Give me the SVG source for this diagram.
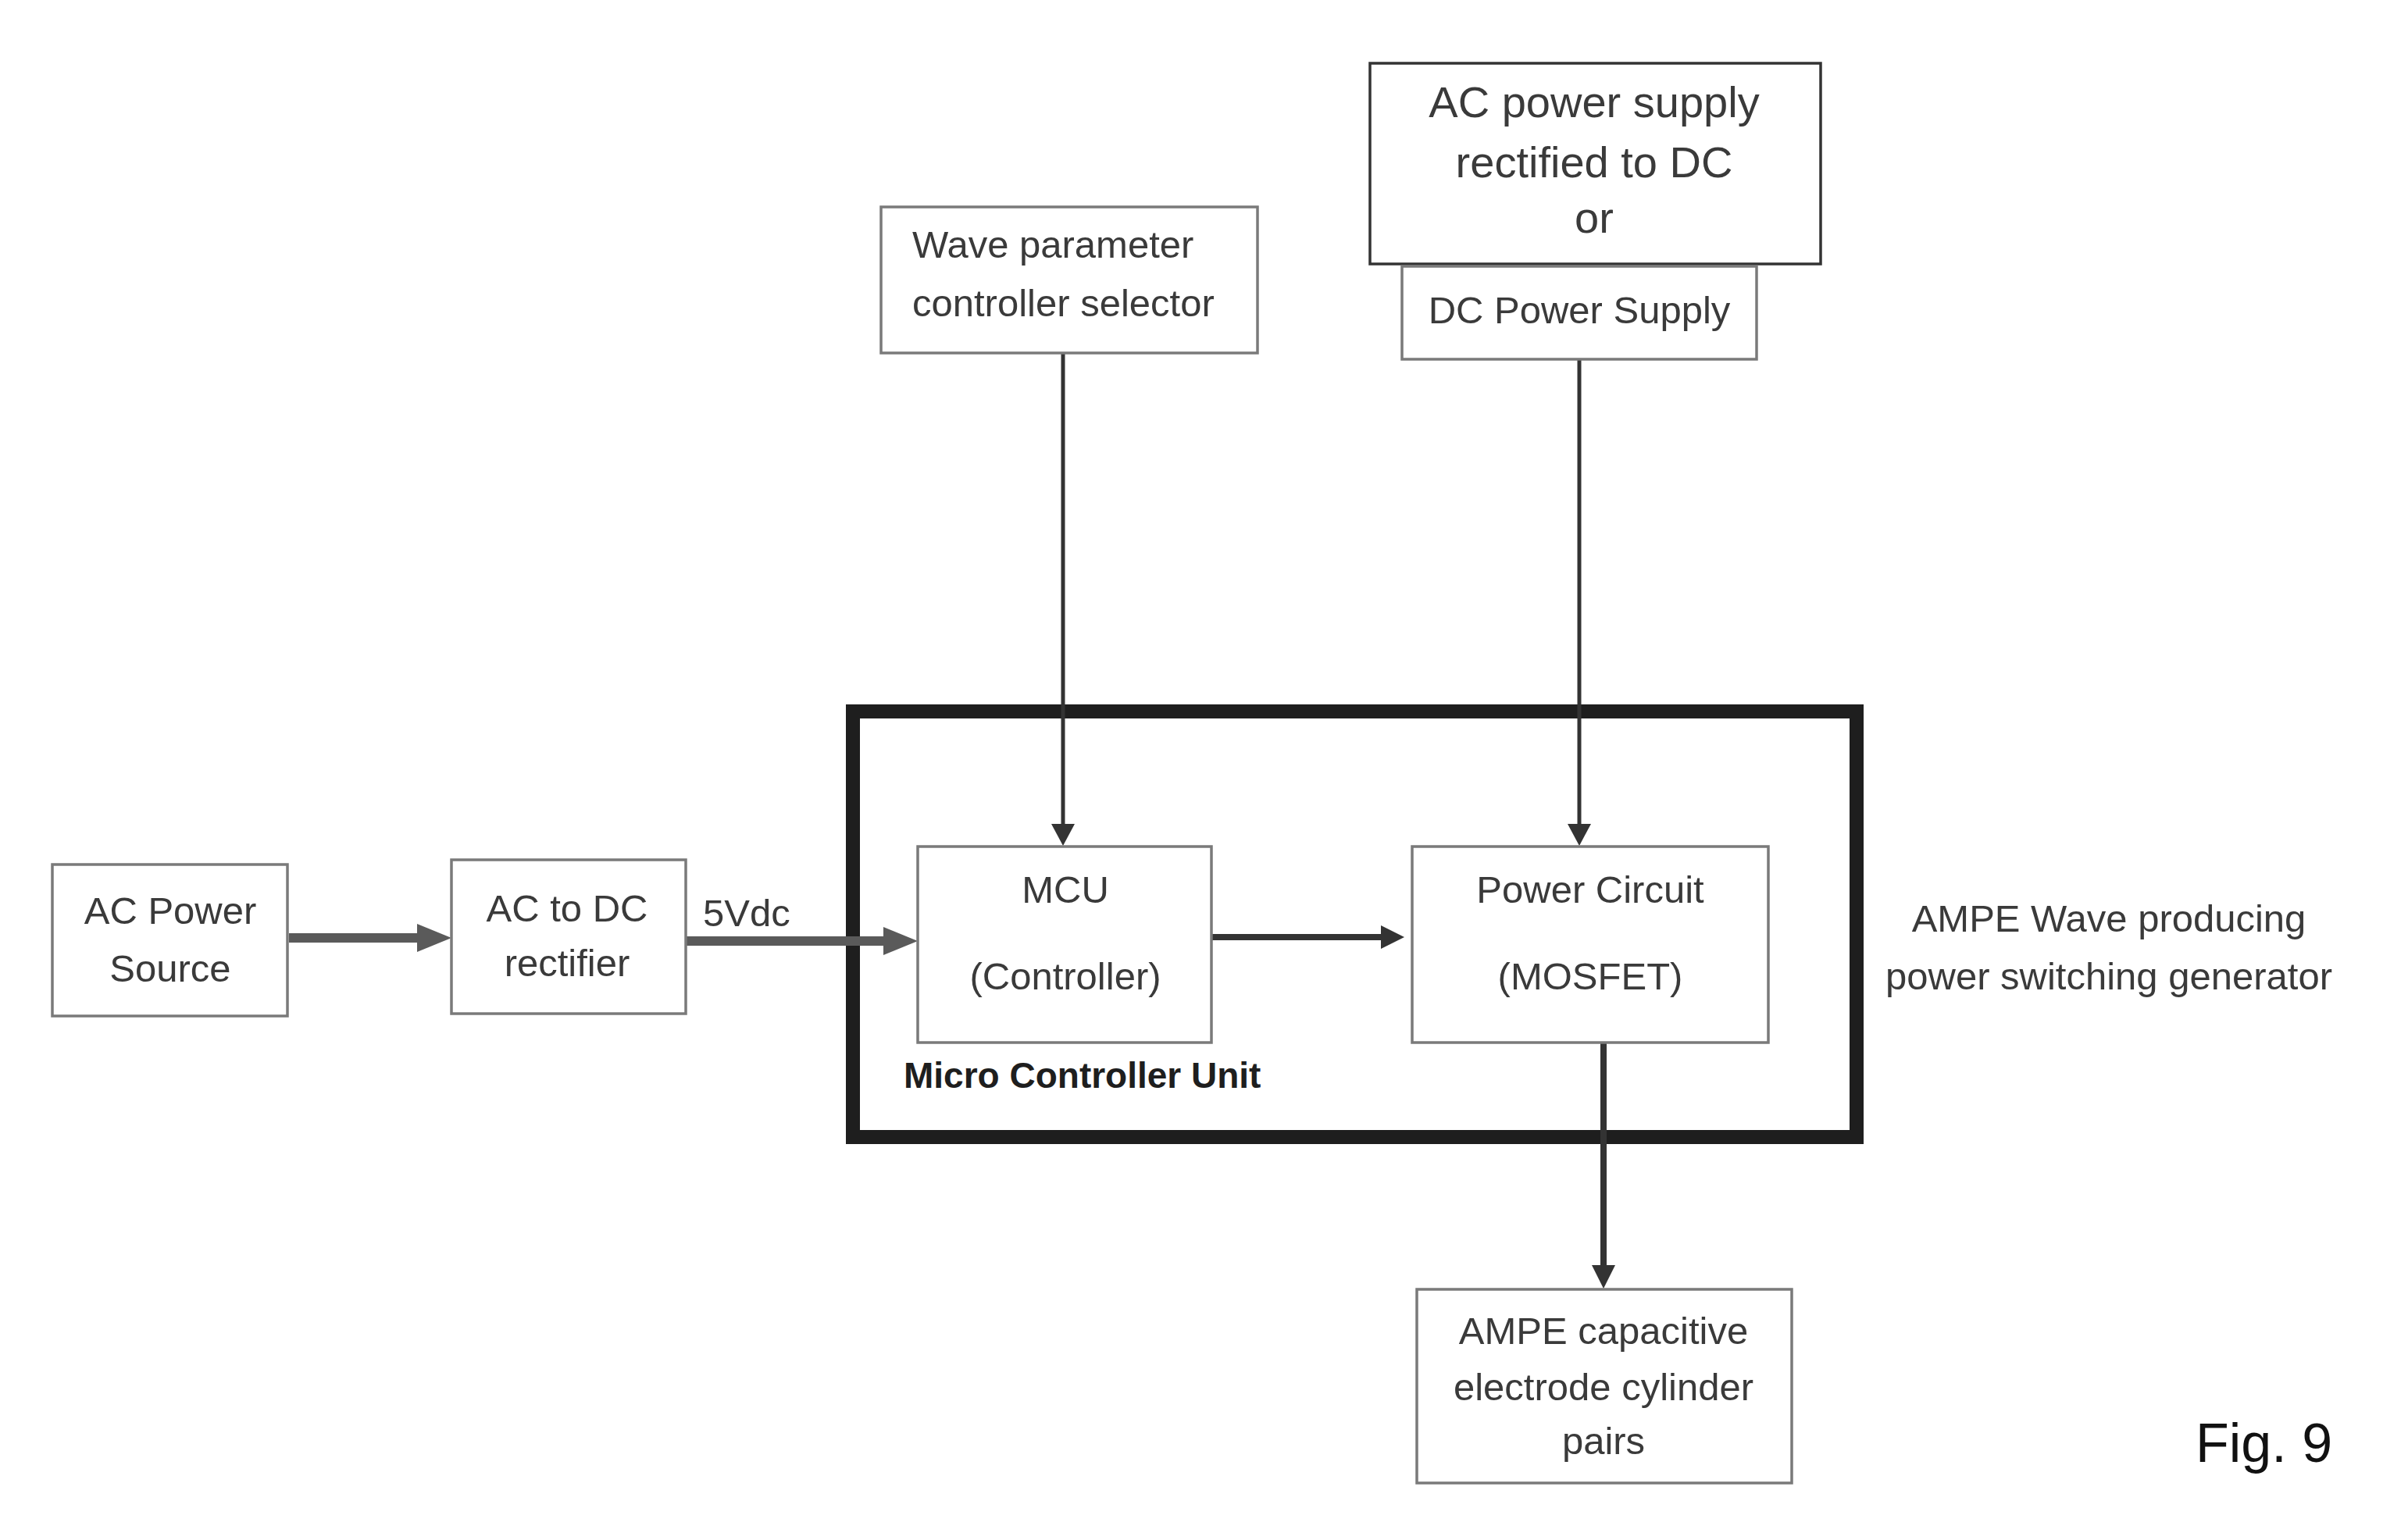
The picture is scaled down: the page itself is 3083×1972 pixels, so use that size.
<svg xmlns="http://www.w3.org/2000/svg" width="3083" height="1972" viewBox="0 0 3083 1972">
<defs>
<style>
.box{fill:#ffffff;stroke:#7a7a7a;stroke-width:3.5}
.boxd{fill:#ffffff;stroke:#333333;stroke-width:3.5}
.frame{fill:none;stroke:#1e1e1e;stroke-width:18}
.t{font-family:"Liberation Sans",Arial,sans-serif;font-size:49px;fill:#3a3a3a}
.tc{text-anchor:middle}
.tb{font-family:"Liberation Sans",Arial,sans-serif;font-size:46px;font-weight:bold;fill:#1e1e1e}
.fig{font-family:"Liberation Sans",Arial,sans-serif;font-size:70px;fill:#111111}
.thick{stroke:#5a5a5a;stroke-width:12;fill:none}
.mid{stroke:#333333;stroke-width:8;fill:none}
.thin{stroke:#333333;stroke-width:5;fill:none}
</style>
<marker id="ahBig" markerUnits="userSpaceOnUse" viewBox="0 0 44 36" refX="0" refY="18" markerWidth="44" markerHeight="36" orient="auto">
<path d="M0,0 L44,18 L0,36 Z" fill="#5a5a5a"/>
</marker>
<marker id="ahMid" markerUnits="userSpaceOnUse" viewBox="0 0 30 30" refX="0" refY="15" markerWidth="30" markerHeight="30" orient="auto">
<path d="M0,0 L30,15 L0,30 Z" fill="#333333"/>
</marker>
<marker id="ahThin" markerUnits="userSpaceOnUse" viewBox="0 0 28 30" refX="0" refY="15" markerWidth="28" markerHeight="30" orient="auto">
<path d="M0,0 L28,15 L0,30 Z" fill="#333333"/>
</marker>
</defs>
<rect width="3083" height="1972" fill="#ffffff"/>

<g id="mcu-unit">
<rect class="frame" x="1092" y="911" width="1285" height="545"/>
<text class="tb" x="1157" y="1393">Micro Controller Unit</text>
</g>

<g id="connectors">
<line class="thick" x1="370" y1="1201" x2="534" y2="1201" marker-end="url(#ahBig)"/>
<line class="thick" x1="879" y1="1205" x2="1131" y2="1205" marker-end="url(#ahBig)"/>
<line class="mid" x1="1551" y1="1200" x2="1768" y2="1200" marker-end="url(#ahMid)"/>
<line class="thin" x1="1361" y1="453" x2="1361" y2="1055" marker-end="url(#ahThin)"/>
<line class="thin" x1="2022" y1="461" x2="2022" y2="1055" marker-end="url(#ahThin)"/>
<line class="mid" x1="2053" y1="1336" x2="2053" y2="1620" marker-end="url(#ahMid)"/>
</g>

<g id="ac-power-source">
<rect class="box" x="67" y="1107" width="301" height="194"/>
<text class="t tc" x="218" y="1183">AC Power</text>
<text class="t tc" x="218" y="1257">Source</text>
</g>

<g id="ac-dc-rectifier">
<rect class="box" x="578" y="1101" width="300" height="197"/>
<text class="t tc" x="726" y="1180">AC to DC</text>
<text class="t tc" x="726" y="1250">rectifier</text>
</g>

<g id="label-5vdc">
<text class="t" x="900" y="1186">5Vdc</text>
</g>

<g id="mcu">
<rect class="box" x="1175" y="1084" width="376" height="251"/>
<text class="t tc" x="1364" y="1156">MCU</text>
<text class="t tc" x="1364" y="1267">(Controller)</text>
</g>

<g id="power-circuit">
<rect class="box" x="1808" y="1084" width="456" height="251"/>
<text class="t tc" x="2036" y="1156">Power Circuit</text>
<text class="t tc" x="2036" y="1267">(MOSFET)</text>
</g>

<g id="wave-selector">
<rect class="box" x="1128" y="265" width="482" height="187"/>
<text class="t" x="1168" y="330">Wave parameter</text>
<text class="t" x="1168" y="405">controller selector</text>
</g>

<g id="ac-supply-rectified">
<rect class="boxd" x="1754" y="81" width="577" height="257"/>
<text class="t tc" x="2041" y="150" style="font-size:56px">AC power supply</text>
<text class="t tc" x="2041" y="227" style="font-size:56px">rectified to DC</text>
<text class="t tc" x="2041" y="298" style="font-size:56px">or</text>
</g>

<g id="dc-power-supply">
<rect class="box" x="1795" y="341" width="454" height="119"/>
<text class="t tc" x="2022" y="414">DC Power Supply</text>
</g>

<g id="ampe-electrodes">
<rect class="box" x="1814" y="1651" width="480" height="248"/>
<text class="t tc" x="2053" y="1721">AMPE capacitive</text>
<text class="t tc" x="2053" y="1793">electrode cylinder</text>
<text class="t tc" x="2053" y="1862">pairs</text>
</g>

<g id="generator-label">
<text class="t tc" x="2700" y="1193">AMPE Wave producing</text>
<text class="t tc" x="2700" y="1267">power switching generator</text>
</g>

<g id="fig-label">
<text class="fig" x="2811" y="1872">Fig. 9</text>
</g>
</svg>
